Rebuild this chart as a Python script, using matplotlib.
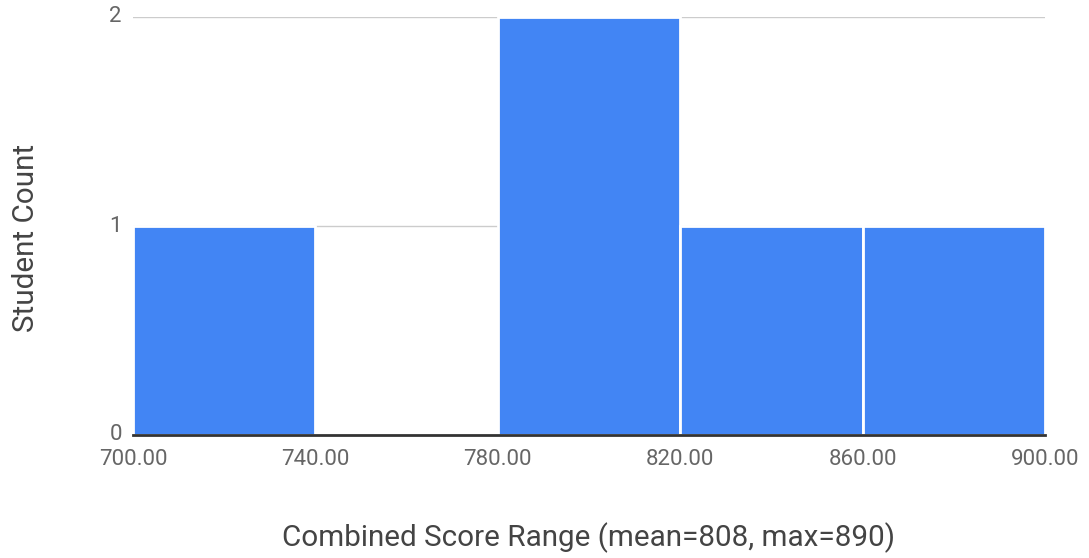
import matplotlib
matplotlib.use("Agg")
import matplotlib.pyplot as plt

bin_edges = [700, 740, 780, 820, 860, 900]
counts = [1, 0, 2, 1, 1]
x_ticks = [700, 740, 780, 820, 860, 900]
x_tick_labels = ["700.00", "740.00", "780.00", "820.00", "860.00", "900.00"]
y_ticks = [0, 1, 2]
x_label = "Combined Score Range (mean=808, max=890)"
y_label = "Student Count"

plt.rcParams['font.family'] = ['Roboto', 'DejaVu Sans']

fig = plt.figure(figsize=(10.89, 5.58), dpi=100)
ax = fig.add_axes([133/1089, 1-435/558, (1045-133)/1089, (435-17)/558])

lefts = bin_edges[:-1]
widths = [bin_edges[i+1] - bin_edges[i] for i in range(len(counts))]
ax.bar(lefts, counts, width=widths, align='edge', color='#4285F4',
       edgecolor='white', linewidth=2, zorder=2)

ax.set_xlim(700, 900)
ax.set_ylim(0, 2)
ax.set_xticks(x_ticks)
ax.set_xticklabels(x_tick_labels)
ax.set_yticks(y_ticks)
ax.yaxis.grid(True, color='#cccccc', linewidth=1, zorder=0)
ax.set_axisbelow(True)
for s in ['top', 'right', 'left']:
    ax.spines[s].set_visible(False)
ax.spines['bottom'].set_color('#333333')
ax.spines['bottom'].set_linewidth(2)
ax.spines['bottom'].set_zorder(3)
ax.tick_params(axis='both', length=0, labelsize=16, colors='#666666')
ax.tick_params(axis='x', pad=10)
ax.tick_params(axis='y', pad=8)
for lbl in ax.get_yticklabels():
    lbl.set_verticalalignment('center')
ax.set_xlabel(x_label, fontsize=21.3, color='#444444', labelpad=38)
ax.set_ylabel(y_label, fontsize=21.3, color='#444444')
ax.yaxis.set_label_coords(-93/912, 0.4725)

fig.savefig("out.png", dpi=100, facecolor='white')
